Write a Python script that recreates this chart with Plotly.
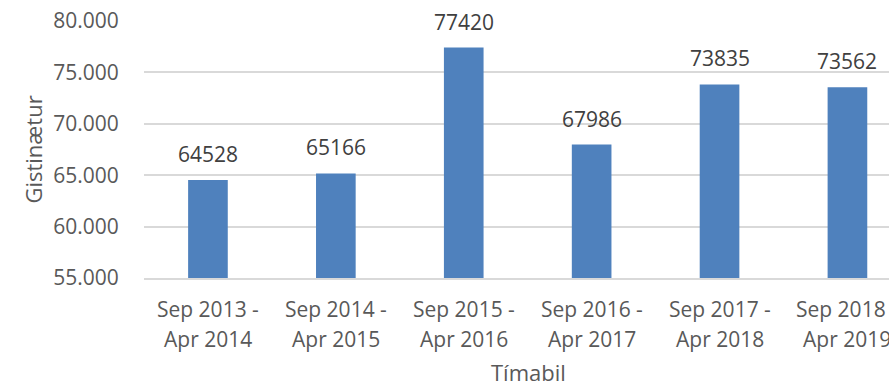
import plotly.graph_objects as go

# Guest nights per winter season (September - April)
season_start = ["Sep 2013 -", "Sep 2014 -", "Sep 2015 -", "Sep 2016 -", "Sep 2017 -", "Sep 2018 -"]
season_end = ["Apr 2014", "Apr 2015", "Apr 2016", "Apr 2017", "Apr 2018", "Apr 2019"]
guest_nights = [64528, 65166, 77420, 67986, 73835, 73562]
y_ticks = [55000, 60000, 65000, 70000, 75000, 80000]
y_tick_labels = ["55.000", "60.000", "65.000", "70.000", "75.000", "80.000"]

TEXT = "#595959"
FONT = "Open Sans"

fig = go.Figure(
    go.Bar(
        x=list(range(len(guest_nights))),
        y=guest_nights,
        marker=dict(color="#4F81BD", line=dict(width=0)),
        width=0.31,
        hoverinfo="skip",
    )
)

# Value labels above each bar
for i, v in enumerate(guest_nights):
    fig.add_annotation(
        x=i, y=v, text=str(v), showarrow=False,
        yanchor="bottom", yshift=10,
        font=dict(family=FONT, size=21, color="#404040"),
    )

# Category labels on two lines below the axis (kept as annotations so the
# partly visible last one is still drawn)
for i, (a, b) in enumerate(zip(season_start, season_end)):
    fig.add_annotation(
        x=i, xref="x", y=0, yref="paper", text=a, showarrow=False,
        yanchor="middle", yshift=-31, font=dict(family=FONT, size=21, color=TEXT),
    )
    fig.add_annotation(
        x=i, xref="x", y=0, yref="paper", text=b, showarrow=False,
        yanchor="middle", yshift=-61, font=dict(family=FONT, size=21, color=TEXT),
    )

# Axis title for the categories
fig.add_annotation(
    x=0.5, xref="paper", y=0, yref="paper", text="Tímabil", showarrow=False,
    yanchor="middle", xshift=12, yshift=-94, borderpad=0,
    font=dict(family=FONT, size=22, color=TEXT),
)

fig.update_layout(
    width=889, height=388,
    margin=dict(l=144, r=0, t=21, b=110, autoexpand=False),
    paper_bgcolor="white", plot_bgcolor="white",
    showlegend=False,
    font=dict(family=FONT, size=21, color=TEXT),
)
fig.update_xaxes(
    range=[-0.5, 5.325],
    showticklabels=False,
    showgrid=False, zeroline=False,
    showline=True, linecolor="#D9D9D9", linewidth=1.5,
    automargin=False,
)
fig.update_yaxes(
    range=[55000, 80000],
    tickmode="array", tickvals=y_ticks, ticktext=y_tick_labels,
    ticks="outside", ticklen=20, tickcolor="rgba(0,0,0,0)",
    showgrid=True, gridcolor="#D9D9D9", gridwidth=1.5,
    zeroline=False, showline=False,
    tickfont=dict(family=FONT, size=21, color=TEXT),
    title=dict(text="Gistinætur", font=dict(family=FONT, size=22, color=TEXT), standoff=4),
    automargin=False,
)

fig.write_html("out.html")
